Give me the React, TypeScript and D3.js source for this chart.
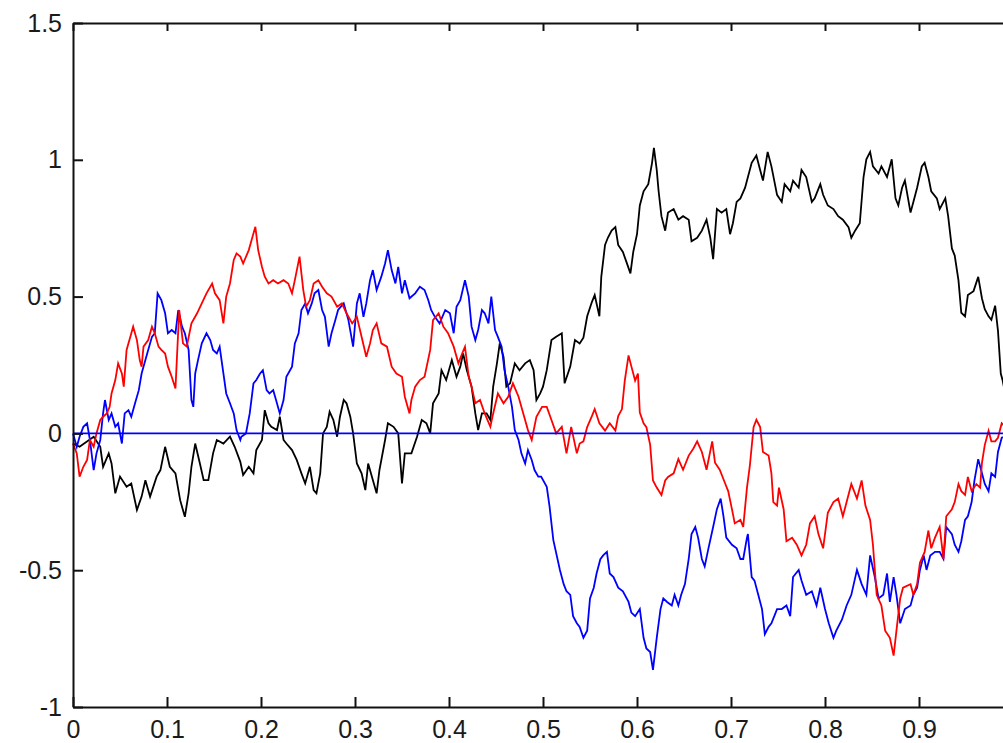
import { useEffect, useRef } from "react";
import * as d3 from "d3";

const xTicks = [0, 0.1, 0.2, 0.3, 0.4, 0.5, 0.6, 0.7, 0.8, 0.9, 1];
const xLabels = ["0", "0.1", "0.2", "0.3", "0.4", "0.5", "0.6", "0.7", "0.8", "0.9", ""];
const yTicks = [-1, -0.5, 0, 0.5, 1, 1.5];

// three sample paths as [t, value]
const blackPath = [
  [0.000,-0.037],[0.007,-0.049],[0.022,-0.012],[0.029,-0.049],[0.032,-0.122],[0.038,-0.073],[0.041,-0.110],[0.045,-0.219],[0.050,-0.158],[0.057,-0.195],
  [0.062,-0.183],[0.068,-0.280],[0.073,-0.231],[0.077,-0.171],[0.082,-0.231],[0.089,-0.158],[0.093,-0.134],[0.098,-0.049],[0.103,-0.122],[0.109,-0.146],
  [0.114,-0.244],[0.119,-0.305],[0.123,-0.219],[0.126,-0.122],[0.130,-0.037],[0.135,-0.110],[0.139,-0.171],[0.144,-0.171],[0.149,-0.073],[0.153,-0.024],
  [0.160,-0.037],[0.167,-0.012],[0.172,-0.049],[0.178,-0.104],[0.181,-0.152],[0.187,-0.122],[0.192,-0.146],[0.195,-0.061],[0.201,-0.024],[0.204,0.085],
  [0.208,0.037],[0.211,0.024],[0.217,0.012],[0.220,0.061],[0.224,-0.024],[0.227,-0.037],[0.233,-0.061],[0.238,-0.097],[0.243,-0.146],[0.247,-0.183],
  [0.252,-0.122],[0.256,-0.207],[0.259,-0.219],[0.263,-0.146],[0.266,0.000],[0.270,0.024],[0.273,0.079],[0.277,0.049],[0.281,-0.012],[0.284,0.061],
  [0.288,0.122],[0.291,0.110],[0.295,0.061],[0.298,0.000],[0.302,-0.110],[0.307,-0.146],[0.311,-0.207],[0.314,-0.110],[0.318,-0.158],[0.323,-0.219],
  [0.326,-0.134],[0.332,-0.024],[0.335,0.037],[0.341,0.024],[0.346,0.000],[0.350,-0.183],[0.353,-0.073],[0.360,-0.073],[0.366,-0.012],[0.371,0.049],
  [0.376,0.037],[0.380,0.000],[0.383,0.110],[0.389,0.146],[0.392,0.231],[0.397,0.195],[0.403,0.268],[0.408,0.207],[0.412,0.244],[0.415,0.292],
  [0.419,0.231],[0.424,0.171],[0.428,0.073],[0.431,0.012],[0.435,0.073],[0.440,0.073],[0.444,0.049],[0.447,0.171],[0.451,0.256],[0.454,0.329],
  [0.458,0.280],[0.461,0.171],[0.465,0.183],[0.470,0.256],[0.475,0.231],[0.481,0.256],[0.486,0.268],[0.490,0.231],[0.493,0.122],[0.497,0.146],
  [0.500,0.171],[0.504,0.231],[0.509,0.341],[0.514,0.353],[0.520,0.366],[0.523,0.183],[0.529,0.244],[0.534,0.341],[0.539,0.329],[0.543,0.350],
  [0.547,0.428],[0.552,0.480],[0.555,0.506],[0.560,0.428],[0.562,0.572],[0.566,0.689],[0.569,0.715],[0.573,0.741],[0.577,0.754],[0.580,0.689],
  [0.585,0.663],[0.589,0.624],[0.593,0.585],[0.596,0.663],[0.600,0.728],[0.603,0.833],[0.607,0.885],[0.612,0.911],[0.616,0.989],[0.618,1.044],
  [0.621,0.963],[0.623,0.885],[0.626,0.794],[0.630,0.741],[0.633,0.807],[0.639,0.820],[0.644,0.781],[0.649,0.794],[0.655,0.781],[0.658,0.702],
  [0.664,0.715],[0.669,0.741],[0.674,0.781],[0.678,0.715],[0.681,0.637],[0.685,0.820],[0.690,0.807],[0.695,0.820],[0.699,0.728],[0.702,0.768],
  [0.706,0.846],[0.710,0.859],[0.715,0.898],[0.718,0.937],[0.722,0.989],[0.727,1.016],[0.731,0.963],[0.734,0.924],[0.739,1.029],[0.743,0.976],
  [0.749,0.872],[0.754,0.846],[0.757,0.911],[0.763,0.885],[0.766,0.924],[0.772,0.898],[0.775,0.963],[0.780,0.937],[0.786,0.846],[0.789,0.859],
  [0.795,0.911],[0.798,0.872],[0.803,0.833],[0.809,0.820],[0.814,0.794],[0.819,0.781],[0.825,0.754],[0.828,0.715],[0.832,0.741],[0.837,0.768],
  [0.841,0.937],[0.844,1.002],[0.848,1.029],[0.851,0.976],[0.857,0.950],[0.860,0.976],[0.866,0.937],[0.871,1.002],[0.875,0.859],[0.878,0.833],
  [0.882,0.898],[0.885,0.924],[0.891,0.807],[0.894,0.846],[0.898,0.898],[0.903,0.976],[0.906,0.989],[0.910,0.937],[0.913,0.885],[0.919,0.859],
  [0.922,0.820],[0.928,0.859],[0.931,0.794],[0.935,0.676],[0.938,0.650],[0.942,0.559],[0.945,0.441],[0.949,0.428],[0.952,0.506],[0.958,0.520],
  [0.963,0.572],[0.967,0.493],[0.970,0.454],[0.974,0.428],[0.977,0.415],[0.981,0.467],[0.984,0.376],[0.987,0.219],[0.989,0.193],[1.000,0.000],
];

const redPath = [
  [0.000,-0.037],[0.004,-0.073],[0.007,-0.158],[0.011,-0.122],[0.015,-0.097],[0.018,-0.024],[0.022,-0.049],[0.025,0.000],[0.029,0.049],[0.032,0.061],
  [0.036,0.073],[0.039,0.097],[0.041,0.146],[0.045,0.195],[0.048,0.256],[0.052,0.219],[0.054,0.171],[0.057,0.305],[0.061,0.353],[0.064,0.390],
  [0.068,0.341],[0.071,0.268],[0.073,0.244],[0.075,0.317],[0.080,0.341],[0.084,0.390],[0.087,0.366],[0.091,0.317],[0.094,0.305],[0.098,0.292],
  [0.101,0.244],[0.105,0.207],[0.109,0.164],[0.113,0.451],[0.117,0.329],[0.121,0.317],[0.126,0.402],[0.132,0.439],[0.137,0.475],[0.142,0.512],
  [0.148,0.548],[0.151,0.512],[0.156,0.487],[0.160,0.402],[0.163,0.500],[0.167,0.548],[0.171,0.634],[0.174,0.658],[0.178,0.646],[0.181,0.621],
  [0.187,0.670],[0.190,0.707],[0.194,0.755],[0.197,0.670],[0.201,0.609],[0.204,0.573],[0.208,0.548],[0.213,0.560],[0.218,0.548],[0.224,0.560],
  [0.229,0.548],[0.233,0.512],[0.236,0.560],[0.241,0.646],[0.245,0.524],[0.248,0.463],[0.252,0.487],[0.256,0.548],[0.261,0.560],[0.265,0.536],
  [0.270,0.512],[0.275,0.500],[0.281,0.463],[0.286,0.475],[0.291,0.439],[0.297,0.402],[0.302,0.426],[0.307,0.353],[0.312,0.280],[0.316,0.329],
  [0.319,0.378],[0.323,0.402],[0.328,0.329],[0.334,0.317],[0.339,0.244],[0.344,0.219],[0.350,0.207],[0.353,0.134],[0.358,0.073],[0.360,0.122],
  [0.364,0.171],[0.369,0.195],[0.374,0.207],[0.380,0.305],[0.383,0.414],[0.389,0.439],[0.394,0.390],[0.399,0.366],[0.405,0.317],[0.410,0.256],
  [0.414,0.292],[0.417,0.317],[0.421,0.207],[0.424,0.171],[0.428,0.110],[0.433,0.122],[0.438,0.073],[0.444,0.024],[0.447,0.073],[0.452,0.146],
  [0.458,0.110],[0.463,0.134],[0.468,0.183],[0.474,0.134],[0.479,0.073],[0.484,0.012],[0.488,-0.024],[0.493,0.061],[0.499,0.097],[0.504,0.097],
  [0.509,0.049],[0.514,0.000],[0.520,0.024],[0.525,-0.073],[0.530,0.024],[0.536,-0.073],[0.539,-0.037],[0.543,-0.029],[0.547,0.023],[0.552,0.063],
  [0.555,0.089],[0.560,0.037],[0.566,0.010],[0.571,0.037],[0.577,0.010],[0.580,0.063],[0.584,0.089],[0.587,0.193],[0.591,0.285],[0.594,0.245],
  [0.598,0.193],[0.601,0.219],[0.603,0.076],[0.607,0.037],[0.610,0.023],[0.614,-0.042],[0.617,-0.172],[0.621,-0.198],[0.626,-0.225],[0.630,-0.172],
  [0.633,-0.159],[0.639,-0.146],[0.644,-0.094],[0.649,-0.133],[0.655,-0.081],[0.660,-0.055],[0.664,-0.029],[0.669,-0.068],[0.674,-0.133],[0.680,-0.029],
  [0.683,-0.107],[0.688,-0.133],[0.694,-0.185],[0.697,-0.211],[0.701,-0.277],[0.704,-0.329],[0.710,-0.316],[0.713,-0.342],[0.717,-0.198],[0.720,-0.120],
  [0.724,0.023],[0.727,0.050],[0.731,0.023],[0.734,-0.068],[0.740,-0.081],[0.743,-0.146],[0.745,-0.251],[0.749,-0.264],[0.751,-0.198],[0.756,-0.277],
  [0.759,-0.394],[0.765,-0.381],[0.770,-0.407],[0.775,-0.446],[0.780,-0.407],[0.784,-0.329],[0.789,-0.303],[0.793,-0.368],[0.798,-0.420],[0.803,-0.290],
  [0.809,-0.251],[0.814,-0.238],[0.819,-0.303],[0.823,-0.251],[0.828,-0.185],[0.834,-0.238],[0.839,-0.172],[0.843,-0.264],[0.848,-0.316],[0.851,-0.407],
  [0.855,-0.590],[0.860,-0.629],[0.864,-0.721],[0.869,-0.747],[0.873,-0.812],[0.876,-0.721],[0.880,-0.603],[0.883,-0.564],[0.891,-0.551],[0.894,-0.590],
  [0.898,-0.551],[0.901,-0.473],[0.906,-0.433],[0.910,-0.355],[0.913,-0.420],[0.917,-0.381],[0.922,-0.342],[0.926,-0.459],[0.929,-0.303],[0.935,-0.277],
  [0.938,-0.251],[0.942,-0.185],[0.945,-0.211],[0.949,-0.225],[0.952,-0.159],[0.956,-0.211],[0.961,-0.185],[0.965,-0.198],[0.967,-0.107],[0.970,-0.042],
  [0.974,0.010],[0.977,-0.029],[0.981,-0.029],[0.984,-0.016],[0.988,0.037],[1.000,0.000],
];

const bluePath = [
  [0.000,0.000],[0.004,-0.049],[0.007,-0.012],[0.011,0.024],[0.015,0.037],[0.018,-0.024],[0.022,-0.134],[0.025,-0.073],[0.029,-0.024],[0.032,0.073],
  [0.034,0.122],[0.038,0.049],[0.041,0.073],[0.045,0.024],[0.048,0.037],[0.052,-0.037],[0.055,0.073],[0.059,0.085],[0.062,0.061],[0.066,0.110],
  [0.070,0.158],[0.073,0.219],[0.077,0.268],[0.080,0.305],[0.084,0.353],[0.087,0.366],[0.090,0.512],[0.094,0.487],[0.098,0.439],[0.101,0.366],
  [0.105,0.378],[0.109,0.366],[0.112,0.451],[0.116,0.390],[0.119,0.366],[0.123,0.305],[0.126,0.122],[0.128,0.097],[0.130,0.219],[0.133,0.268],
  [0.137,0.329],[0.142,0.366],[0.146,0.341],[0.149,0.305],[0.153,0.292],[0.156,0.317],[0.160,0.219],[0.163,0.146],[0.167,0.110],[0.171,0.073],
  [0.174,0.012],[0.178,-0.024],[0.179,-0.012],[0.184,0.000],[0.188,0.073],[0.192,0.183],[0.195,0.195],[0.199,0.219],[0.202,0.231],[0.206,0.158],
  [0.209,0.146],[0.213,0.158],[0.216,0.122],[0.220,0.073],[0.224,0.122],[0.227,0.207],[0.233,0.244],[0.236,0.329],[0.240,0.366],[0.243,0.451],
  [0.247,0.475],[0.250,0.439],[0.254,0.475],[0.257,0.512],[0.261,0.524],[0.265,0.451],[0.268,0.426],[0.272,0.317],[0.275,0.366],[0.279,0.414],
  [0.282,0.451],[0.288,0.475],[0.293,0.414],[0.298,0.317],[0.302,0.475],[0.305,0.512],[0.309,0.426],[0.312,0.475],[0.316,0.560],[0.319,0.597],
  [0.323,0.524],[0.328,0.573],[0.332,0.621],[0.335,0.670],[0.339,0.597],[0.343,0.548],[0.346,0.609],[0.350,0.512],[0.353,0.560],[0.358,0.494],
  [0.364,0.512],[0.369,0.536],[0.374,0.524],[0.378,0.487],[0.381,0.451],[0.385,0.426],[0.390,0.402],[0.396,0.451],[0.401,0.439],[0.405,0.366],
  [0.408,0.463],[0.412,0.487],[0.417,0.560],[0.421,0.500],[0.424,0.390],[0.428,0.341],[0.431,0.378],[0.435,0.451],[0.438,0.439],[0.442,0.402],
  [0.445,0.500],[0.449,0.378],[0.452,0.353],[0.456,0.317],[0.459,0.231],[0.463,0.171],[0.467,0.097],[0.470,0.012],[0.474,-0.024],[0.477,-0.073],
  [0.481,-0.110],[0.484,-0.061],[0.488,-0.097],[0.491,-0.134],[0.495,-0.158],[0.498,-0.158],[0.504,-0.195],[0.507,-0.268],[0.511,-0.390],[0.518,-0.499],
  [0.522,-0.551],[0.525,-0.577],[0.529,-0.590],[0.532,-0.668],[0.536,-0.694],[0.539,-0.707],[0.543,-0.747],[0.547,-0.721],[0.550,-0.603],[0.554,-0.564],
  [0.557,-0.512],[0.561,-0.460],[0.564,-0.446],[0.568,-0.433],[0.571,-0.512],[0.575,-0.525],[0.580,-0.564],[0.585,-0.577],[0.591,-0.616],[0.594,-0.655],
  [0.598,-0.668],[0.603,-0.642],[0.607,-0.747],[0.610,-0.786],[0.614,-0.799],[0.617,-0.864],[0.621,-0.747],[0.625,-0.642],[0.628,-0.603],[0.632,-0.616],
  [0.637,-0.629],[0.640,-0.590],[0.644,-0.629],[0.647,-0.590],[0.651,-0.551],[0.655,-0.459],[0.658,-0.368],[0.662,-0.342],[0.665,-0.381],[0.669,-0.459],
  [0.672,-0.486],[0.676,-0.420],[0.681,-0.342],[0.685,-0.277],[0.689,-0.238],[0.692,-0.303],[0.695,-0.381],[0.701,-0.407],[0.706,-0.420],[0.710,-0.459],
  [0.713,-0.459],[0.717,-0.381],[0.718,-0.368],[0.722,-0.525],[0.725,-0.538],[0.729,-0.590],[0.733,-0.642],[0.736,-0.734],[0.740,-0.707],[0.743,-0.694],
  [0.749,-0.642],[0.754,-0.642],[0.759,-0.629],[0.763,-0.668],[0.766,-0.525],[0.772,-0.499],[0.775,-0.538],[0.780,-0.590],[0.786,-0.577],[0.791,-0.629],
  [0.795,-0.564],[0.800,-0.642],[0.804,-0.694],[0.809,-0.747],[0.812,-0.721],[0.818,-0.681],[0.823,-0.629],[0.828,-0.590],[0.834,-0.499],[0.839,-0.551],
  [0.844,-0.590],[0.848,-0.446],[0.853,-0.525],[0.857,-0.603],[0.862,-0.590],[0.866,-0.512],[0.869,-0.616],[0.873,-0.525],[0.876,-0.590],[0.880,-0.694],
  [0.885,-0.642],[0.891,-0.629],[0.894,-0.590],[0.898,-0.564],[0.901,-0.499],[0.905,-0.446],[0.908,-0.499],[0.912,-0.446],[0.917,-0.433],[0.922,-0.433],
  [0.926,-0.459],[0.929,-0.342],[0.935,-0.368],[0.938,-0.407],[0.942,-0.433],[0.945,-0.394],[0.949,-0.316],[0.952,-0.303],[0.956,-0.251],[0.959,-0.172],
  [0.963,-0.094],[0.966,-0.133],[0.970,-0.185],[0.974,-0.211],[0.977,-0.146],[0.981,-0.159],[0.984,-0.068],[0.988,-0.016],[1.000,0.000],
];

const zeroLine = [[0, 0], [1, 0]];

const series = [
  { data: blackPath, color: "#000000" },
  { data: bluePath, color: "#0000ff" },
  { data: redPath, color: "#ff0000" },
  { data: zeroLine, color: "#0000ff" },
];

export default function App() {
  const ref = useRef<SVGSVGElement>(null);

  useEffect(() => {
    const svg = d3.select(ref.current);
    svg.selectAll("*").remove();

    const left = 73;
    const right = 1013;
    const top = 23;
    const bottom = 707;
    const font = "'Liberation Sans', Arial, sans-serif";

    const x = d3.scaleLinear().domain([0, 1]).range([left, right]);
    const y = d3.scaleLinear().domain([-1, 1.5]).range([bottom, top]);

    const line = d3
      .line<number[]>()
      .x((d) => x(d[0]))
      .y((d) => y(d[1]));

    const plot = svg.append("g");
    series.forEach((s) => {
      plot
        .append("path")
        .attr("d", line(s.data))
        .attr("fill", "none")
        .attr("stroke", s.color)
        .attr("stroke-width", 1.8)
        .attr("stroke-linejoin", "miter");
    });

    const styleAxis = (g) => {
      g.select(".domain").attr("stroke", "#111").attr("stroke-width", 2);
      g.selectAll(".tick line").attr("stroke", "#111").attr("stroke-width", 2);
      g.selectAll(".tick text").attr("fill", "#1a1a1a");
      g.attr("font-size", 25).attr("font-family", font);
    };

    svg
      .append("g")
      .attr("transform", `translate(0,${bottom})`)
      .call(
        d3.axisBottom(x).tickValues(xTicks).tickSizeInner(-10).tickSizeOuter(0)
          .tickPadding(13).tickFormat((d, i) => xLabels[i])
      )
      .call(styleAxis);

    svg
      .append("g")
      .attr("transform", `translate(0,${top})`)
      .call(
        d3.axisTop(x).tickValues(xTicks).tickSizeInner(-8).tickSizeOuter(0).tickFormat(() => "")
      )
      .call(styleAxis);

    svg
      .append("g")
      .attr("transform", `translate(${left},0)`)
      .call(
        d3.axisLeft(y).tickValues(yTicks).tickSizeInner(-10).tickSizeOuter(0)
          .tickPadding(11).tickFormat((d) => String(d))
      )
      .call(styleAxis);

    svg
      .append("g")
      .attr("transform", `translate(${right},0)`)
      .call(
        d3.axisRight(y).tickValues(yTicks).tickSizeInner(-10).tickSizeOuter(0).tickFormat(() => "")
      )
      .call(styleAxis);
  }, []);

  return (
    <svg
      ref={ref}
      width={1003}
      height={743}
      style={{ position: "absolute", left: 0, top: 0, background: "#fff" }}
    />
  );
}
